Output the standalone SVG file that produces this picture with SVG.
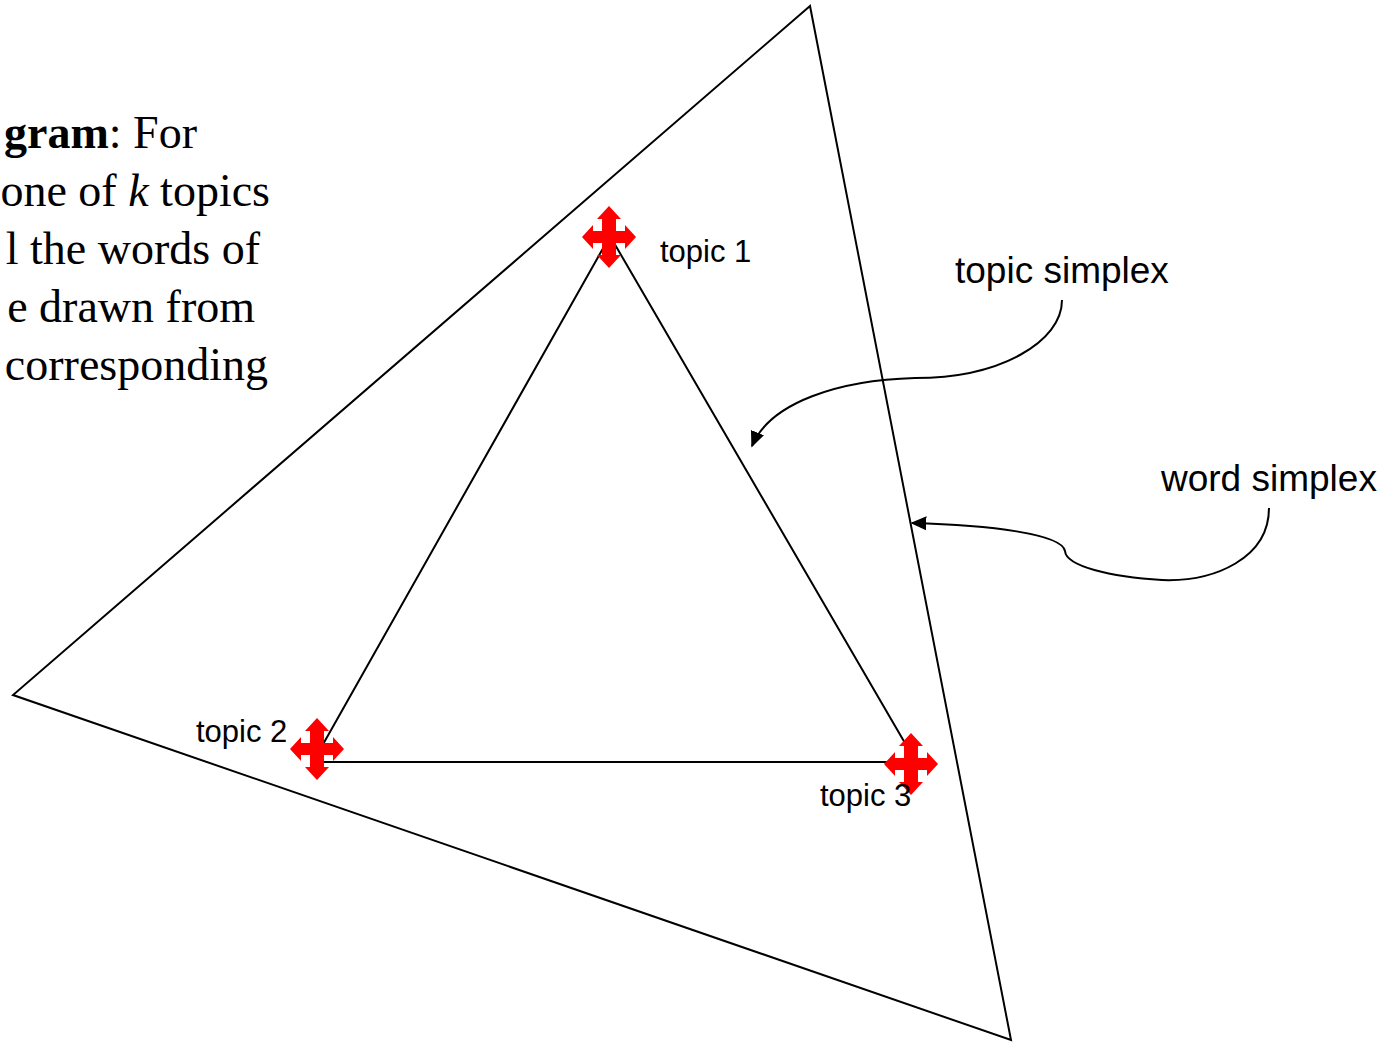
<svg xmlns="http://www.w3.org/2000/svg" width="1397" height="1042" viewBox="0 0 1397 1042">
<style>
.edge{fill:none;stroke:#000;stroke-width:2}
.lbl{font-family:"Liberation Sans",Arial,sans-serif;font-size:31px;fill:#000}
.big{font-family:"Liberation Sans",Arial,sans-serif;font-size:37px;fill:#000}
.ser{font-family:"Liberation Serif","Times New Roman",serif;font-size:46px;fill:#000}
.cross{fill:#ff0000}
</style>
<defs>
<marker id="ah2" viewBox="0 0 10 10" refX="9" refY="5" markerWidth="16" markerHeight="14" markerUnits="userSpaceOnUse" orient="auto" preserveAspectRatio="none">
<path d="M0,0 L10,5 L0,10 Z" fill="#000"/>
</marker>
<path id="crs" d="M0,-31 L12,-18 L7,-18 L7,-6 L16,-6 L16,-12 L27,0 L16,12 L16,6 L7,6 L7,18 L12,18 L0,31 L-12,18 L-7,18 L-7,6 L-16,6 L-16,12 L-27,0 L-16,-12 L-16,-6 L-7,-6 L-7,-18 L-12,-18 Z"/>
</defs>
<rect width="1397" height="1042" fill="#fff"/>
<g id="caption">
<text class="ser" x="197" y="148" text-anchor="end"><tspan font-weight="bold">gram</tspan>: For</text>
<text class="ser" x="270" y="206" text-anchor="end">one of <tspan font-style="italic">k</tspan> topics</text>
<text class="ser" x="260" y="264" text-anchor="end">l the words of</text>
<text class="ser" x="255" y="322" text-anchor="end">e drawn from</text>
<text class="ser" x="268" y="380" text-anchor="end">corresponding</text>
</g>
<g id="word-simplex-triangle">
<polygon class="edge" points="810,6 13,695 1011,1040"/>
</g>
<g id="topic-simplex-triangle">
<polygon class="edge" points="610,236 313,762 916,762"/>
</g>
<g id="connectors">
<path class="edge" d="M1062,300 C1062,342 1000,378 915,378 C840,380 770,402 752,446" marker-end="url(#ah2)"/>
<path class="edge" d="M1269,508 C1269,558 1215,582 1162,580 C1110,577 1066,566 1065,551 C1062,534 990,525 912,523" marker-end="url(#ah2)"/>
</g>
<g id="topic1">
<use href="#crs" class="cross" x="609" y="237"/>
<text class="lbl" x="660" y="262">topic 1</text>
</g>
<g id="topic2">
<use href="#crs" class="cross" x="317" y="749"/>
<text class="lbl" x="196" y="742">topic 2</text>
</g>
<g id="topic3">
<use href="#crs" class="cross" x="911" y="764"/>
<text class="lbl" x="820" y="806">topic 3</text>
</g>
<g id="label-topic-simplex">
<text class="big" x="955" y="283">topic simplex</text>
</g>
<g id="label-word-simplex">
<text class="big" x="1161" y="491">word simplex</text>
</g>
</svg>
